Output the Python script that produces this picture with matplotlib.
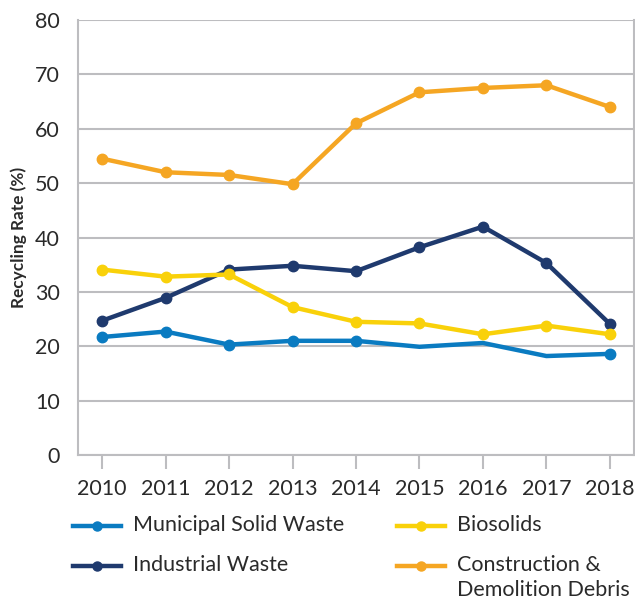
import matplotlib
matplotlib.use("Agg")
import matplotlib.pyplot as plt
from matplotlib.lines import Line2D

years = [2010, 2011, 2012, 2013, 2014, 2015, 2016, 2017, 2018]
msw = [21.7, 22.7, 20.3, 21.0, 21.0, 19.9, 20.6, 18.2, 18.6]
industrial = [24.7, 28.9, 34.1, 34.8, 33.8, 38.2, 42.0, 35.3, 24.1]
biosolids = [34.1, 32.8, 33.2, 27.2, 24.5, 24.2, 22.2, 23.8, 22.2]
construction = [54.5, 52.0, 51.5, 49.8, 61.0, 66.7, 67.5, 68.0, 64.0]
msw_markers = [0, 1, 2, 3, 4, 8]

series_labels = ['Municipal Solid Waste', 'Industrial Waste', 'Biosolids',
                 'Construction &\nDemolition Debris']
series_colors = ['#0a7bc1', '#1f3a6e', '#f9d10a', '#f5a623']

plt.rcParams['font.family'] = ['Lato', 'DejaVu Sans']
TXT = '#2a2a2a'
W, H = 635, 606

fig = plt.figure(figsize=(6.35, 6.06), dpi=100)
ax = fig.add_axes([78 / W, 1 - 455 / H, (634 - 78) / W, (455 - 20) / H])

lw = 3.2
ms = 7.5
data = [msw, industrial, biosolids, construction]
marks = [msw_markers, None, None, None]
for vals, lab, col, mk in zip(data, series_labels, series_colors, marks):
    ax.plot(years, vals, color=col, lw=lw, marker='o', ms=ms, markevery=mk,
            label=lab, zorder=3)

ax.set_xlim(2009.62, 2018.38)
ax.set_ylim(0, 80)
ax.set_yticks(range(0, 81, 10))
ax.set_xticks(years)
ax.set_xticklabels([str(y) for y in years])
ax.grid(axis='y', color='#bdbdc0', lw=1.5)
ax.set_axisbelow(True)
for s in ['left', 'right', 'bottom']:
    ax.spines[s].set_color('#bdbdc0')
    ax.spines[s].set_linewidth(1.5)
ax.spines['top'].set_visible(False)
ax.tick_params(axis='y', length=0, labelsize=15.5, pad=13, labelcolor=TXT)
ax.tick_params(axis='x', length=10, width=1.5, color='#bdbdc0', labelsize=15.5,
               pad=7, labelcolor=TXT)
ax.set_ylabel('Recycling Rate (%)', fontsize=12.4, fontweight='bold', labelpad=5.5,
              color=TXT)

# manual legend (two columns)
slots = [(73, 526), (73, 566), (397, 526), (397, 566)]
for (x0, y0), lab, col in zip(slots, series_labels, series_colors):
    yf = 1 - y0 / H
    fig.add_artist(Line2D([x0 / W, (x0 + 48) / W], [yf, yf], transform=fig.transFigure,
                          color=col, lw=lw))
    fig.add_artist(Line2D([(x0 + 24) / W], [yf], transform=fig.transFigure,
                          color=col, marker='o', ms=6.5, lw=0))
    fig.text((x0 + 60) / W, yf + 11 / H, lab, fontsize=15.5, color=TXT,
             va='top', ha='left', linespacing=1.3)

fig.savefig('out.png', dpi=100)
